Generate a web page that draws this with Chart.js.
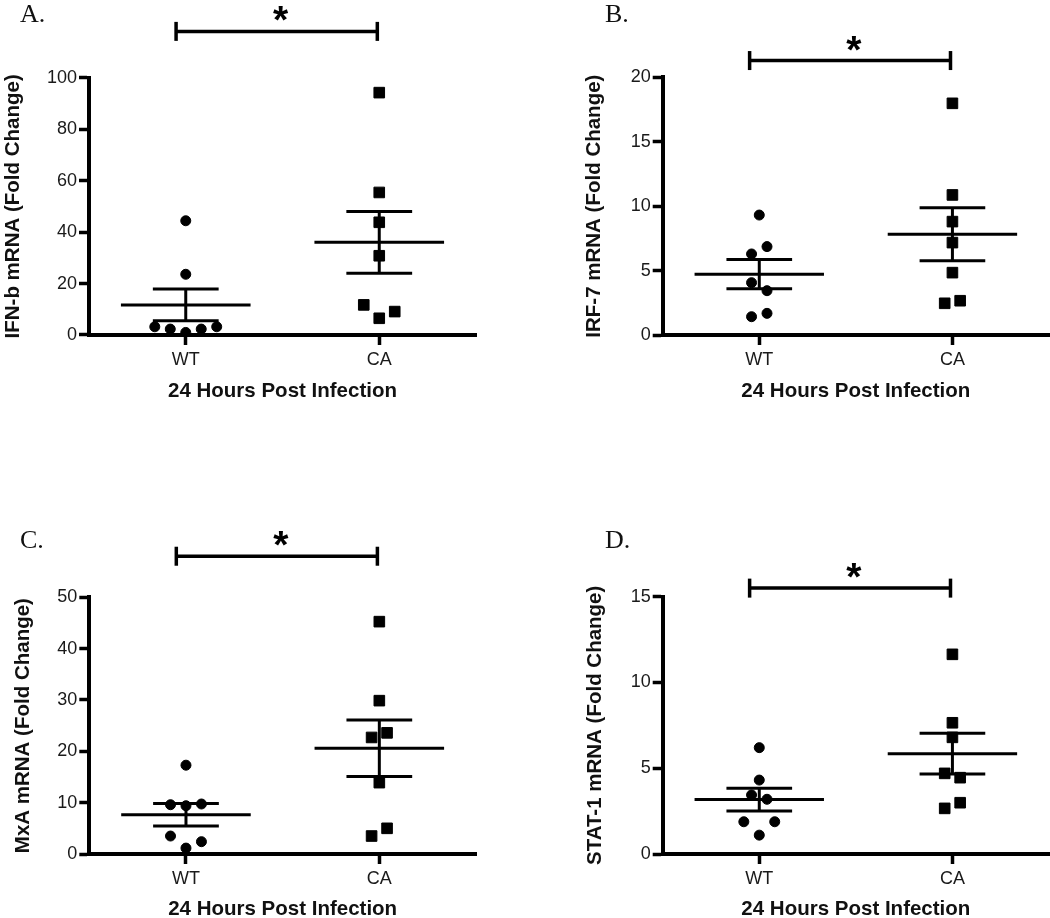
<!DOCTYPE html>
<html>
<head>
<meta charset="utf-8">
<script src="https://cdn.jsdelivr.net/npm/chart.js@4.4.1/dist/chart.umd.min.js"></script>
<style>
  body { margin: 0; background: #fff; }
  #wrap { position: relative; width: 1050px; height: 918px; overflow: hidden; background: #fff; }
  canvas { position: absolute; left: 0; top: 0; }
  .tag { position: absolute; font-family: "Liberation Serif", "DejaVu Serif", serif; font-size: 26px; color: #111; line-height: normal; }
</style>
</head>
<body>
<div id="wrap">
  <canvas id="chartA" width="1050" height="918"></canvas>
  <canvas id="chartB" width="1050" height="918"></canvas>
  <canvas id="chartC" width="1050" height="918"></canvas>
  <canvas id="chartD" width="1050" height="918"></canvas>
  <div class="tag" style="left:20px;top:-1px">A.</div>
  <div class="tag" style="left:605px;top:-1px">B.</div>
  <div class="tag" style="left:20px;top:525px">C.</div>
  <div class="tag" style="left:605px;top:525px">D.</div>
</div>
<script>
// groups on the x axis
const groups = ["WT", "CA"];
const xTitle = "24 Hours Post Infection";

// A. IFN-b
const wtA = [44.4, 23.6, 3.2, 2.3, 1.0, 2.3, 3.2];
const wtAJit = [0, 0, -0.16, -0.08, 0, 0.08, 0.16];
const caA = [94.2, 55.4, 43.8, 30.8, 11.7, 9.1, 6.5];
const caAJit = [0, 0, 0, 0, -0.08, 0.08, 0];
const meanA = [11.7, 36.0];
const semA = [6.2, 12.0];

// B. IRF-7
const wtB = [9.31, 6.86, 6.29, 4.06, 3.44, 1.68, 1.42];
const wtBJit = [0, 0.04, -0.04, -0.04, 0.04, 0.04, -0.04];
const caB = [17.98, 10.87, 8.80, 7.17, 4.84, 2.46, 2.66];
const caBJit = [0, 0, 0, 0, 0, -0.04, 0.04];
const meanB = [4.72, 7.82];
const semB = [1.13, 2.05];

// C. MxA
const wtC = [17.3, 9.6, 9.4, 9.74, 3.5, 2.4, 1.15];
const wtCJit = [0, -0.08, 0, 0.08, -0.08, 0.08, 0];
const caC = [45.26, 29.87, 23.6, 22.7, 13.9, 5.0, 3.5];
const caCJit = [0, 0, 0.04, -0.04, 0, 0.04, -0.04];
const meanC = [7.65, 20.6];
const semC = [2.2, 5.5];

// D. STAT-1
const wtD = [6.2, 4.31, 3.44, 3.19, 1.88, 1.88, 1.1];
const wtDJit = [0, 0, -0.04, 0.04, -0.08, 0.08, 0];
const caD = [11.64, 7.65, 6.8, 4.70, 4.45, 2.99, 2.66];
const caDJit = [0, 0, 0, -0.04, 0.04, 0.04, -0.04];
const meanD = [3.17, 5.85];
const semD = [0.66, 1.19];

// y axis ranges and titles
const yTitles = ["IFN-b mRNA (Fold Change)", "IRF-7 mRNA (Fold Change)", "MxA mRNA (Fold Change)", "STAT-1 mRNA (Fold Change)"];
const yMax = [100, 20, 50, 15];
const yStep = [20, 5, 10, 5];
// significance bracket height (in y units) and x span
const bracketLevel = [118, 21.3, 58, 15.5];
const bracketSpan = [0.95, 1.99];

const SANS = '"Liberation Sans", Arial, sans-serif';

// panel frame: chart area edges and title centres (page pixels)
const frames = [
  { id: "chartA", L: 89, R: 476, T: 77.7, B: 335, xt: 391, yt: 13 },
  { id: "chartB", L: 662.7, R: 1049, T: 77.3, B: 335, xt: 391, yt: 594 },
  { id: "chartC", L: 89.3, R: 476, T: 597.3, B: 854, xt: 909, yt: 23 },
  { id: "chartD", L: 662.7, R: 1049, T: 596.7, B: 854, xt: 909, yt: 595 }
];

const statsPlugin = {
  id: "stats",
  afterDatasetsDraw(chart, args, opts) {
    const { ctx } = chart;
    const x = chart.scales.x, y = chart.scales.y;
    ctx.save();
    ctx.strokeStyle = "#000";
    ctx.lineCap = "butt";
    const line = (x1, y1, x2, y2) => {
      ctx.beginPath(); ctx.moveTo(x1, y1); ctx.lineTo(x2, y2); ctx.stroke();
    };
    ctx.lineWidth = 3;
    opts.means.forEach((m, i) => {
      const c = i + 1, s = opts.sems[i];
      const py = y.getPixelForValue(m);
      const pt = y.getPixelForValue(m + s), pb = y.getPixelForValue(m - s);
      line(x.getPixelForValue(c - 0.335), py, x.getPixelForValue(c + 0.335), py);
      line(x.getPixelForValue(c - 0.17), pt, x.getPixelForValue(c + 0.17), pt);
      line(x.getPixelForValue(c - 0.17), pb, x.getPixelForValue(c + 0.17), pb);
      line(x.getPixelForValue(c), pt, x.getPixelForValue(c), pb);
    });
    // bracket + star
    const by = y.getPixelForValue(opts.bracket);
    const bx1 = x.getPixelForValue(bracketSpan[0]), bx2 = x.getPixelForValue(bracketSpan[1]);
    ctx.lineWidth = 3.5;
    line(bx1, by, bx2, by);
    line(bx1, by - 9.5, bx1, by + 9.5);
    line(bx2, by - 9.5, bx2, by + 9.5);
    ctx.fillStyle = "#000";
    ctx.font = "bold 39px " + SANS;
    ctx.textAlign = "center";
    ctx.textBaseline = "alphabetic";
    ctx.fillText("*", x.getPixelForValue(1.49), by + 2);
    ctx.restore();
  }
};

function makePanel(k, wt, wtJit, ca, caJit, means, sems) {
  const f = frames[k];
  const padLeft = Math.max(0, f.yt - 13.25);
  const yWidth = f.L - padLeft;
  const xBottom = f.xt + 7.25;
  const xHeight = xBottom - f.B;
  const axisGrid = { display: true, drawOnChartArea: false, drawTicks: true, tickLength: 10, tickWidth: 3.5, tickColor: "#000", color: "#000" };
  const axisBorder = { display: true, color: "#000", width: 4 };
  new Chart(document.getElementById(f.id), {
    type: "scatter",
    data: {
      datasets: [
        {
          data: wt.map((v, i) => ({ x: 1 + wtJit[i], y: v })),
          pointStyle: "circle", pointRadius: 5, pointHoverRadius: 5,
          backgroundColor: "#000", borderColor: "#000", borderWidth: 1
        },
        {
          data: ca.map((v, i) => ({ x: 2 + caJit[i], y: v })),
          pointStyle: "rect", pointRadius: 7.5, pointHoverRadius: 7.5,
          backgroundColor: "#000", borderColor: "#000", borderWidth: 1
        }
      ]
    },
    options: {
      responsive: false,
      animation: false,
      devicePixelRatio: 1,
      layout: { autoPadding: false, padding: { left: padLeft, top: f.T, right: 1050 - f.R, bottom: 918 - xBottom } },
      plugins: {
        legend: { display: false },
        tooltip: { enabled: false },
        stats: { means, sems, bracket: bracketLevel[k] }
      },
      scales: {
        x: {
          type: "linear", min: 0.5, max: 2.5,
          afterBuildTicks: s => { s.ticks = groups.map((g, i) => ({ value: i + 1 })); },
          afterFit: s => { s.height = xHeight; s.paddingLeft = 0; s.paddingRight = 0; },
          ticks: { callback: v => groups[v - 1], font: { family: SANS, size: 18 }, color: "#1a1a1a", padding: 4, autoSkip: false, maxRotation: 0 },
          grid: axisGrid,
          border: axisBorder,
          title: { display: true, text: xTitle, color: "#111", font: { family: SANS, size: 20.5, weight: "bold", lineHeight: 1 }, padding: { top: 0, bottom: -3 } }
        },
        y: {
          min: 0, max: yMax[k],
          afterFit: s => { s.width = yWidth; },
          ticks: { stepSize: yStep[k], font: { family: SANS, size: 18 }, color: "#1a1a1a", padding: 2 },
          grid: axisGrid,
          border: axisBorder,
          title: { display: true, text: yTitles[k], color: "#111", font: { family: SANS, size: 20.5, weight: "bold", lineHeight: 1 }, padding: { top: 3, bottom: 0 } }
        }
      }
    },
    plugins: [statsPlugin]
  });
}

makePanel(0, wtA, wtAJit, caA, caAJit, meanA, semA);
makePanel(1, wtB, wtBJit, caB, caBJit, meanB, semB);
makePanel(2, wtC, wtCJit, caC, caCJit, meanC, semC);
makePanel(3, wtD, wtDJit, caD, caDJit, meanD, semD);
</script>
</body>
</html>
